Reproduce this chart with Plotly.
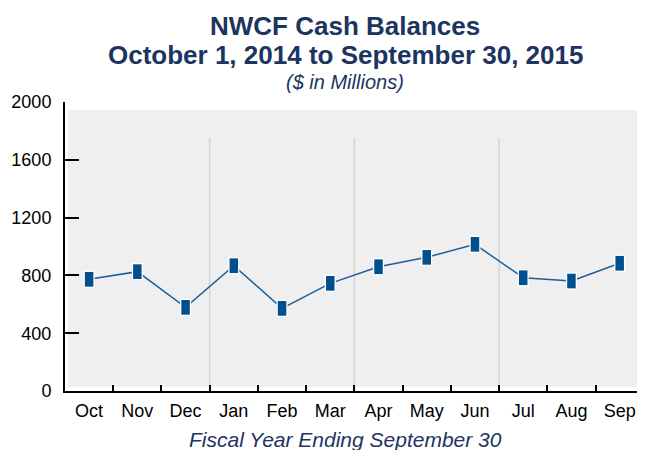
import plotly.graph_objects as go

# data
months = ['Oct', 'Nov', 'Dec', 'Jan', 'Feb', 'Mar', 'Apr', 'May', 'Jun', 'Jul', 'Aug', 'Sep']
balances = [773, 826, 579, 867, 572, 745, 860, 925, 1015, 784, 761, 884]
y_ticks = [0, 400, 800, 1200, 1600, 2000]
quarter_lines = [2.5, 5.5, 8.5]

navy = '#1d3461'
blue = '#00508f'

fig = go.Figure()

# connecting line
fig.add_trace(go.Scatter(x=months, y=balances, mode='lines',
                         line=dict(color='#1a5f9c', width=1.5),
                         hoverinfo='skip'))
# white outline behind markers
fig.add_trace(go.Scatter(x=months, y=balances, mode='markers',
                         marker=dict(symbol='line-ns', size=12.5,
                                     line=dict(color='white', width=11)),
                         hoverinfo='skip'))
# the blue bar markers
fig.add_trace(go.Scatter(x=months, y=balances, mode='markers',
                         marker=dict(symbol='line-ns', size=10.5,
                                     line=dict(color=blue, width=8.5))))

shapes = [dict(type='rect', xref='x', yref='y', x0=-0.44, x1=11.38, y0=28, y1=1945,
               fillcolor='#efefef', line=dict(width=0), layer='below')]
for q in quarter_lines:
    shapes.append(dict(type='line', xref='x', yref='y', x0=q, x1=q, y0=0, y1=1750,
                       line=dict(color='#d4d4d4', width=1.5), layer='below'))

def note(text, x, y, size):
    return dict(text=text, x=x, y=y, xref='paper', yref='paper', showarrow=False,
                xanchor='center', yanchor='middle',
                font=dict(size=size, color=navy, family='Liberation Sans'))

annotations = [
    note('<b>NWCF Cash Balances</b>', 0.489, 1.263, 26),
    note('<b>October 1, 2014 to September 30, 2015</b>', 0.489, 1.163, 26),
    note('<i>($ in Millions)</i>', 0.489, 1.068, 20),
    note('<i>Fiscal Year Ending September 30</i>', 0.49, -0.168, 21),
]

# page has an 8px body margin, so the figure is sized to fit the window
fig.update_layout(
    width=637, height=442,
    margin=dict(l=57, r=7, t=94, b=59, autoexpand=False),
    paper_bgcolor='white', plot_bgcolor='white',
    showlegend=False,
    font=dict(family='Liberation Sans', size=18, color='black'),
    shapes=shapes, annotations=annotations,
    xaxis=dict(type='category', range=[-0.5, 11.38], showgrid=False, zeroline=False,
               showline=True, linecolor='black', linewidth=2, automargin=False,
               ticks='inside', tickson='boundaries', ticklen=6, tickwidth=2,
               tickcolor='black', ticklabelstandoff=2),
    yaxis=dict(range=[0, 2000], tickvals=y_ticks, showgrid=False, zeroline=False,
               showline=True, linecolor='black', linewidth=2, automargin=False,
               ticks='inside', ticklen=14, tickwidth=2, tickcolor='black',
               ticklabelstandoff=8),
)

fig.write_html("out.html")
